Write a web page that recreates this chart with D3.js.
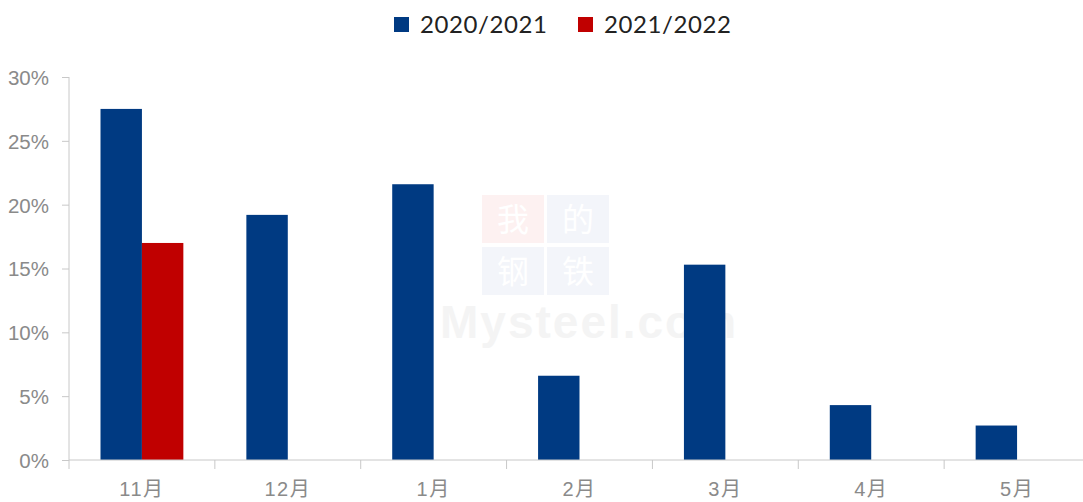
<!DOCTYPE html>
<html>
<head>
<meta charset="utf-8">
<script src="https://cdn.jsdelivr.net/npm/d3@7"></script>
<style>
  body { margin: 0; background: #fff; }
  svg { display: block; }
</style>
</head>
<body>
<div id="chart"></div>
<script>
// data
const months = ["11月", "12月", "1月", "2月", "3月", "4月", "5月"];
const seriesNames = ["2020/2021", "2021/2022"];
const season2021 = [27.5, 19.2, 21.6, 6.6, 15.3, 4.3, 2.7];
const season2022 = [17.0, null, null, null, null, null, null];
const yTicks = [0, 5, 10, 15, 20, 25, 30];
const colors = ["#003A82", "#C00000"];

const W = 1083, H = 502;
const margin = { top: 77, right: -7, bottom: 42, left: 69 };
const width = W - margin.left - margin.right,
    height = H - margin.top - margin.bottom;

const svg = d3.select("#chart").append("svg")
    .attr("width", W)
    .attr("height", H);

// faint watermark
let wm = svg.append("g");
[["我", 482, 195, "#fdf1f1"], ["的", 547, 195, "#f3f5fa"],
 ["钢", 482, 247, "#f3f5fa"], ["铁", 547, 247, "#f3f5fa"]].forEach(c => {
    wm.append("rect").attr("x", c[1]).attr("y", c[2]).attr("width", 62).attr("height", 48).attr("fill", c[3]);
    wm.append("text").attr("x", c[1] + 31).attr("y", c[2] + 36).attr("text-anchor", "middle")
        .attr("font-family", "'Noto Sans CJK SC'").attr("font-size", 32).attr("fill", "#fff").text(c[0]);
});
wm.append("text").attr("x", 440).attr("y", 338)
    .attr("font-family", "'Liberation Sans', Arial").attr("font-weight", "bold")
    .attr("font-size", 46).attr("letter-spacing", 2).attr("fill", "#f4f4f4").text("Mysteel.com");

const g = svg.append("g")
    .attr("transform", "translate(" + margin.left + "," + margin.top + ")");

const x = d3.scaleBand()
    .domain(months)
    .range([0, width])
    .paddingInner(0)
    .paddingOuter(0);

const x1 = d3.scaleBand()
    .domain(seriesNames)
    .range([x.bandwidth() * 0.216, x.bandwidth() * 0.784]);

const y = d3.scaleLinear()
    .domain([0, 30])
    .range([height, 0]);

const yAxis = d3.axisLeft(y)
    .tickValues(yTicks)
    .tickFormat(d => d + "%")
    .tickSize(7)
    .tickPadding(13);

const xAxis = d3.axisBottom(x)
    .tickSize(0)
    .tickPadding(22);

// bars
const rows = months.map((m, i) => ({ month: m, vals: [season2021[i], season2022[i]] }));
const groups = g.selectAll(".grp")
    .data(rows)
    .enter()
    .append("g")
    .attr("class", "grp")
    .attr("transform", d => "translate(" + x(d.month) + ",0)");

groups.selectAll("rect")
    .data(d => d.vals.map((v, k) => ({ key: seriesNames[k], v: v, k: k })).filter(e => e.v != null))
    .enter()
    .append("rect")
    .attr("x", d => x1(d.key))
    .attr("y", d => y(d.v))
    .attr("width", x1.bandwidth())
    .attr("height", d => y(0) - y(d.v))
    .attr("fill", d => colors[d.k]);

// y axis
const ya = g.append("g").attr("class", "y-axis").call(yAxis);
ya.select(".domain").attr("stroke", "#c8c8c8").attr("d", "M0,0V" + height);
ya.selectAll(".tick line").attr("stroke", "#c8c8c8");
ya.selectAll("text")
    .attr("font-family", "'Liberation Sans', Arial, sans-serif")
    .attr("font-size", 20.5)
    .attr("fill", "#8a8a8a")
    .attr("dy", "0.36em");

// x axis
const xa = g.append("g").attr("class", "x-axis")
    .attr("transform", "translate(0," + height + ")")
    .call(xAxis);
xa.select(".domain").attr("stroke", "#c8c8c8").attr("d", "M0,0H" + width);
xa.selectAll("text")
    .attr("font-family", "'Liberation Sans', 'Noto Sans CJK SC', sans-serif")
    .attr("font-size", 20)
    .attr("letter-spacing", 1.5)
    .attr("fill", "#8a8a8a");

// category separators
g.append("g").selectAll("line")
    .data(months)
    .enter()
    .append("line")
    .attr("x1", d => x(d)).attr("x2", d => x(d))
    .attr("y1", height).attr("y2", height + 9)
    .attr("stroke", "#c8c8c8");

// legend
const legendX = [394, 578];
const legend = svg.append("g").selectAll("g")
    .data(seriesNames)
    .enter()
    .append("g")
    .attr("transform", (d, i) => "translate(" + legendX[i] + ",17)");
legend.append("rect")
    .attr("width", 15).attr("height", 15)
    .attr("fill", (d, i) => colors[i]);
legend.append("text")
    .attr("x", 26).attr("y", 15.5)
    .attr("font-family", "Lato, 'Open Sans', sans-serif")
    .attr("font-size", 24)
    .attr("letter-spacing", 0.6)
    .attr("fill", "#222")
    .text(d => d);
</script>
</body>
</html>
